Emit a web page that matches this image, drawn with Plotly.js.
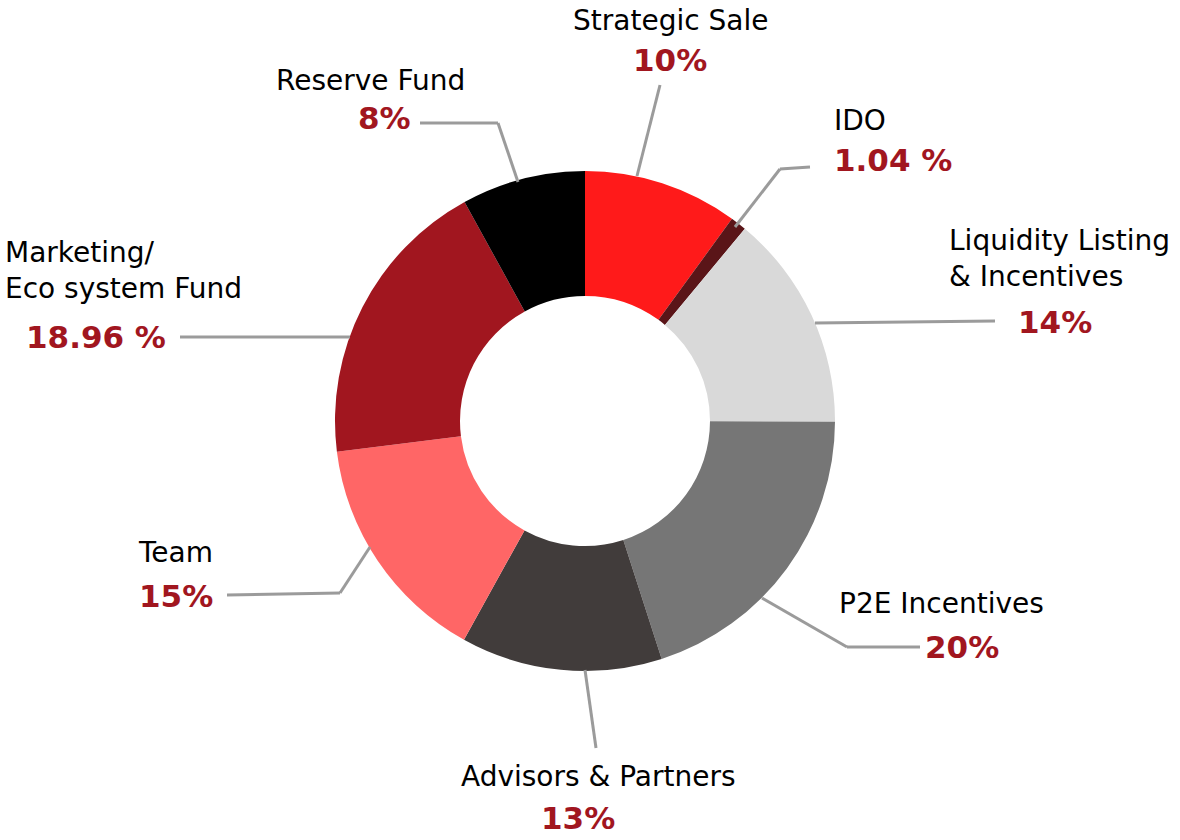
<!DOCTYPE html>
<html>
<head>
<meta charset="utf-8">
<script src="https://cdn.plot.ly/plotly-3.0.1.min.js"></script>
<style>html,body{margin:0;padding:0;background:#fff;}#chart{width:1180px;height:840px;}</style>
</head>
<body>
<div id="chart"></div>
<script>
// ---- data ----
const categories = ["Strategic Sale", "IDO", "Liquidity Listing<br>& Incentives", "P2E Incentives", "Advisors & Partners", "Team", "Marketing/<br>Eco system Fund", "Reserve Fund"];
const values = [10, 1.04, 14, 20, 13, 15, 18.96, 8];
const pctLabels = ["10%", "1.04 %", "14%", "20%", "13%", "15%", "18.96 %", "8%"];
const colors = ["#FF1A1A", "#5A1518", "#D9D9D9", "#767676", "#413C3B", "#FF6666", "#A1161F", "#000000"];

// ---- layout helpers (pixel -> paper) ----
const W = 1180, H = 840;
const px = x => x / W;
const py = y => 1 - y / H;

// label placement: [nameX, nameY, nameAnchor, pctX, pctY, pctAnchor]
const labelPos = [
  [670, 20, "center", 670, 60, "center"],
  [833, 121, "left", 833, 160, "left"],
  [948, 258, "left", 1055, 322, "center"],
  [838, 603, "left", 924, 647, "left"],
  [598, 776, "center", 578, 818, "center"],
  [214, 552, "right", 214, 596, "right"],
  [4, 271, "left", 25, 337, "left"],
  [466, 80, "right", 412, 118, "right"]
];
// leader lines (polyline points in px)
const leaders = [
  [[660, 85], [637, 176]],
  [[810, 167], [780, 169], [735, 227]],
  [[995, 321], [815, 323]],
  [[920, 647], [847, 647], [762, 598]],
  [[596, 748], [585, 670]],
  [[227, 595], [340, 593], [370, 547]],
  [[180, 337], [350, 337]],
  [[420, 123], [498, 123], [518, 182]]
];

const FONT = "DejaVu Sans, sans-serif";
const annotations = [];
categories.forEach((c, i) => {
  const p = labelPos[i];
  annotations.push({
    xref: "paper", yref: "paper", x: px(p[0]), y: py(p[1]),
    xanchor: p[2], yanchor: "middle", align: p[2],
    text: c, showarrow: false, borderpad: 0,
    font: {family: FONT, size: 28, color: "#000000"}
  });
  annotations.push({
    xref: "paper", yref: "paper", x: px(p[3]), y: py(p[4]),
    xanchor: p[5], yanchor: "middle",
    text: "<b>" + pctLabels[i] + "</b>", showarrow: false, borderpad: 0,
    font: {family: FONT, size: 31, color: "#A1161F"}
  });
});

const shapes = [];
leaders.forEach(pts => {
  for (let k = 0; k < pts.length - 1; k++) {
    shapes.push({
      type: "line", xref: "paper", yref: "paper",
      x0: px(pts[k][0]), y0: py(pts[k][1]), x1: px(pts[k + 1][0]), y1: py(pts[k + 1][1]),
      line: {color: "#9B9B9B", width: 3}
    });
  }
});

const trace = {
  type: "pie",
  labels: categories,
  values: values,
  sort: false,
  direction: "clockwise",
  rotation: 0,
  hole: 0.5,
  marker: {colors: colors, line: {width: 0}},
  textinfo: "none",
  hoverinfo: "label+value",
  showlegend: false,
  domain: {x: [335 / W, 835 / W], y: [1 - 671 / H, 1 - 171 / H]}
};

const layout = {
  width: W, height: H,
  margin: {l: 0, r: 0, t: 0, b: 0},
  paper_bgcolor: "#ffffff",
  plot_bgcolor: "#ffffff",
  showlegend: false,
  annotations: annotations,
  shapes: shapes
};

Plotly.newPlot("chart", [trace], layout, {displayModeBar: false, staticPlot: true});
</script>
</body>
</html>
